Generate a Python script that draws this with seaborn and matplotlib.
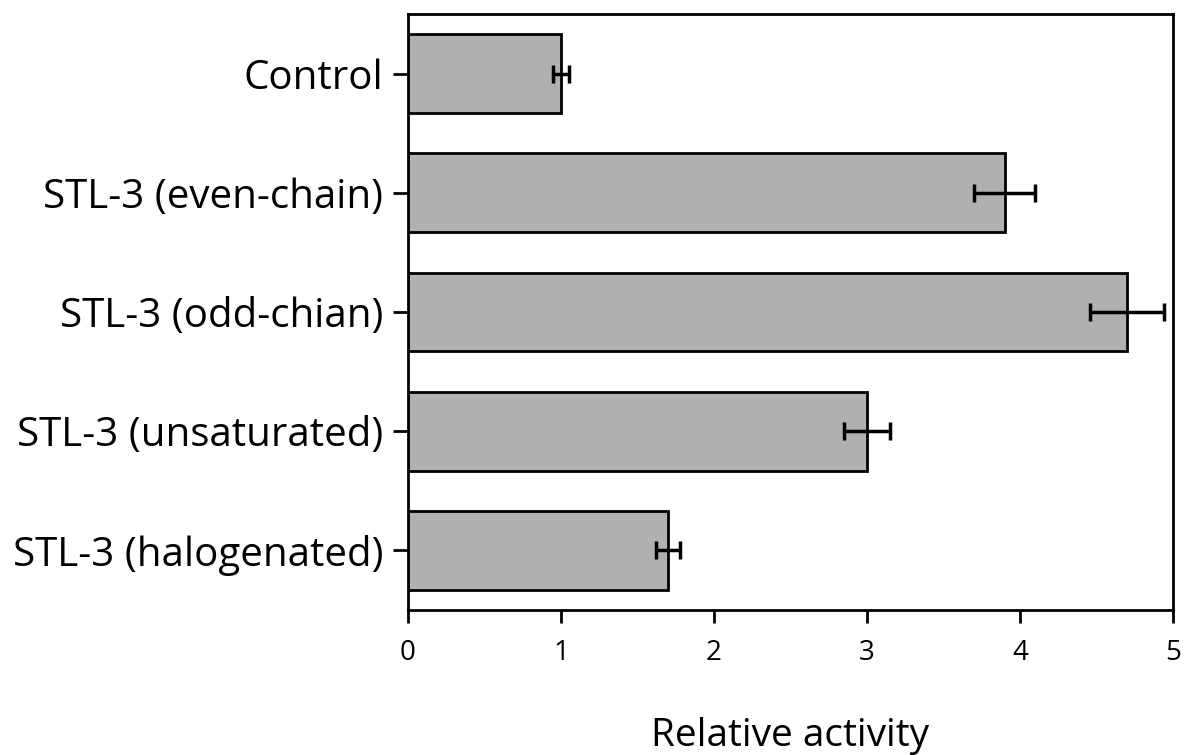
import numpy as np
import pandas as pd
import matplotlib
matplotlib.use('Agg')
import matplotlib.pyplot as plt
import seaborn as sns

# data
conditions = ['Control', 'STL-3 (even-chain)', 'STL-3 (odd-chian)',
              'STL-3 (unsaturated)', 'STL-3 (halogenated)']
activity = [1.0, 3.9, 4.7, 3.0, 1.7]
errors = [0.05, 0.2, 0.24, 0.15, 0.08]
xticks = [0, 1, 2, 3, 4, 5]

df = pd.DataFrame({'condition': conditions, 'activity': activity})

sns.set_style('white', {'text.color': 'black', 'axes.labelcolor': 'black',
                        'xtick.color': 'black', 'ytick.color': 'black'})
plt.rcParams['font.family'] = ['Open Sans', 'DejaVu Sans']

fig = plt.figure(figsize=(11.84, 7.55), dpi=100)
ax = fig.add_axes([0.3446, 0.192, 0.6461, 0.7895])

sns.barplot(data=df, x='activity', y='condition', orient='h', errorbar=None,
            color='#b0b0b0', saturation=1, edgecolor='black', linewidth=2,
            width=0.66, ax=ax)
ax.errorbar(activity, np.arange(len(conditions)), xerr=errors, fmt='none',
            ecolor='black', elinewidth=2.5, capsize=6.5, capthick=2.5)

ax.set_xlim(0, 5)
ax.set_ylim(4.5, -0.5)
ax.set_xticks(xticks)
ax.set_xticklabels([str(t) for t in xticks], fontsize=20)
ax.tick_params(axis='y', labelsize=29, length=11, width=2, direction='out',
               left=True, pad=7, colors='black')
ax.tick_params(axis='x', length=9, width=2, direction='out', bottom=True, pad=12,
               colors='black')
for s in ax.spines.values():
    s.set_visible(True)
    s.set_color('black')
    s.set_linewidth(2)

ax.set_ylabel('')
ax.set_xlabel('Relative activity', fontsize=28, labelpad=36, color='black')

fig.savefig('out.png', dpi=100)
